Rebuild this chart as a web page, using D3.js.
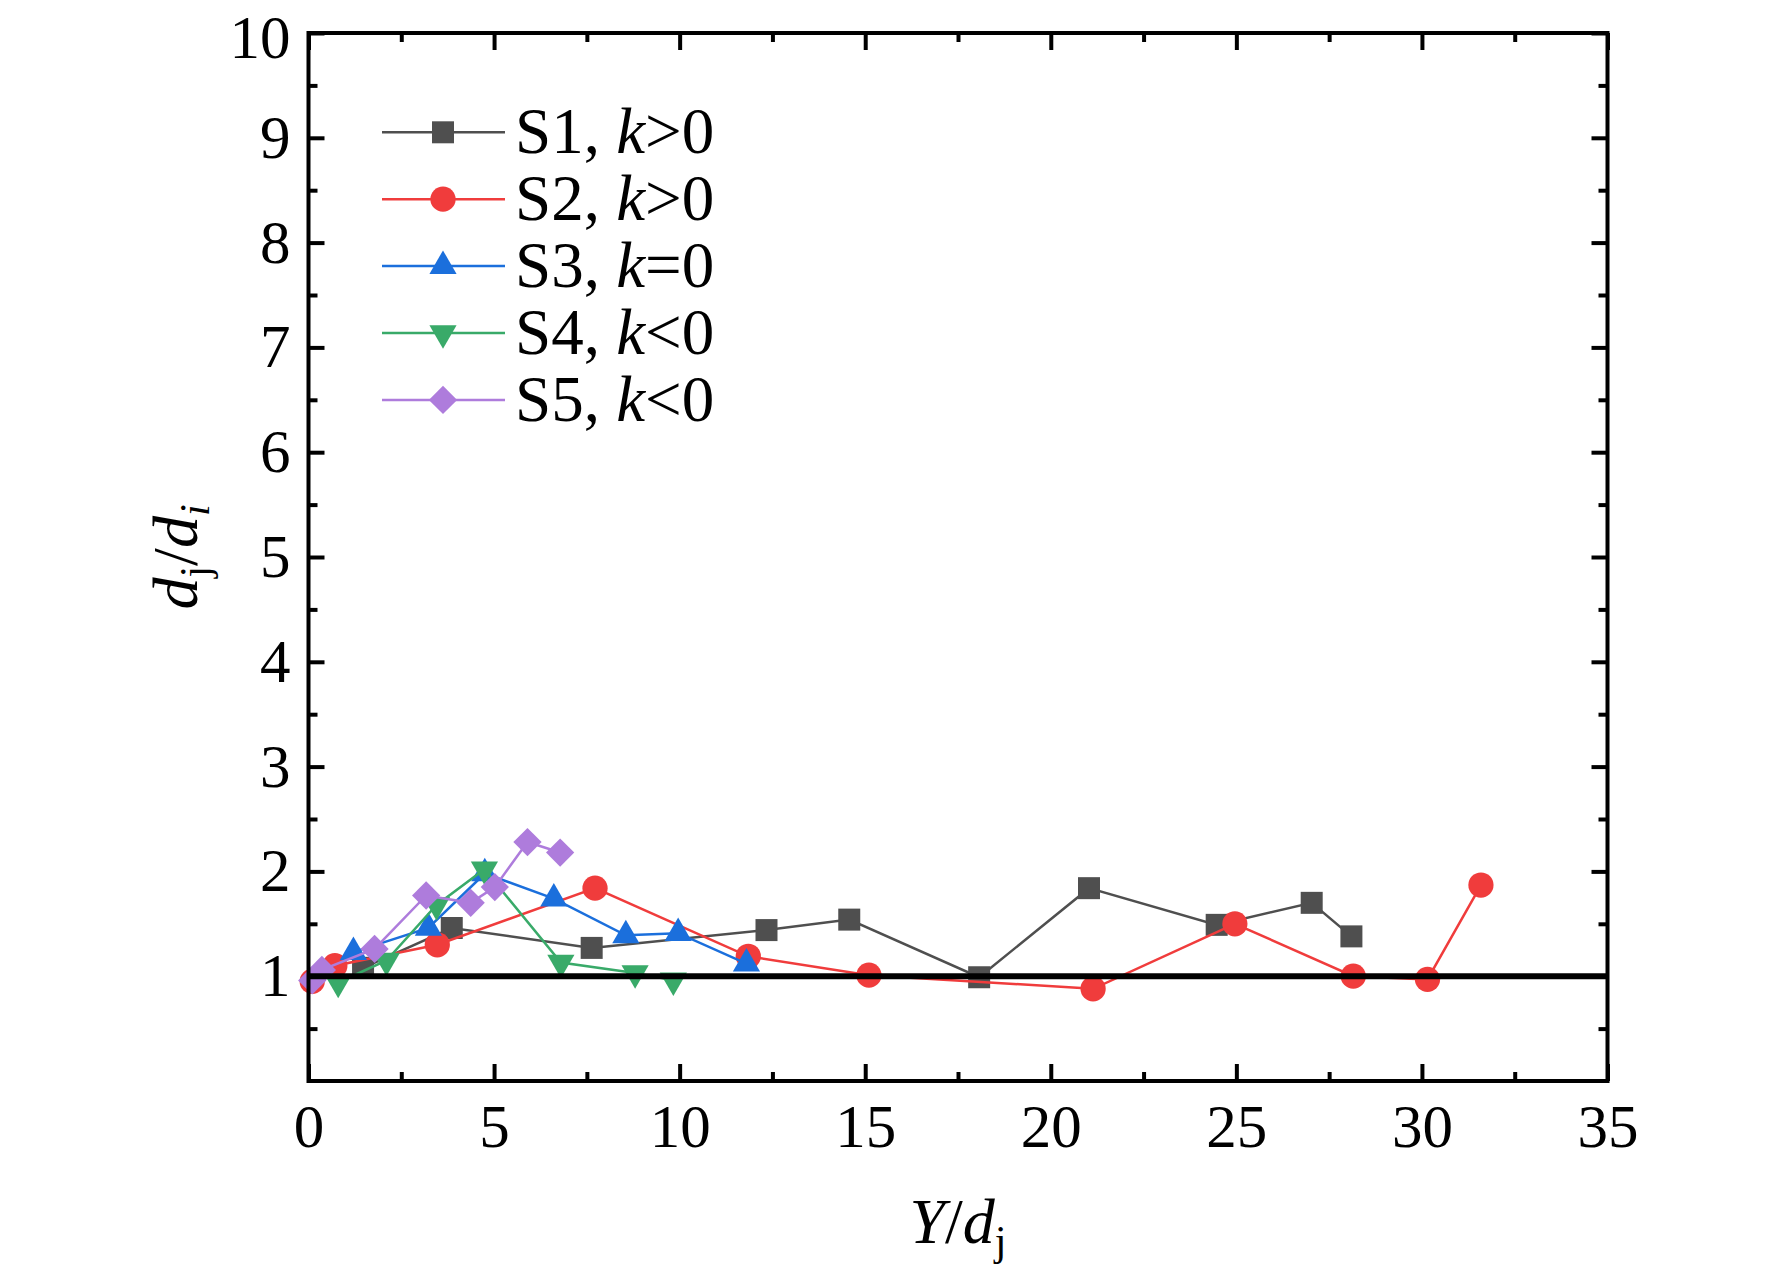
<!DOCTYPE html>
<html><head><meta charset="utf-8">
<script src="https://cdn.jsdelivr.net/npm/d3@7"></script>
<style>body{margin:0;background:#fff}svg{display:block}svg text{font-family:"Liberation Serif",serif}</style>
</head><body>
<svg id="c" width="1772" height="1278"></svg>
<script>
// ---- data ----
const xTickValues = [0, 5, 10, 15, 20, 25, 30, 35];
const yTickValues = [1, 2, 3, 4, 5, 6, 7, 8, 9, 10];
const seriesNames = ["S1", "S2", "S3", "S4", "S5"];
const seriesRel = [">0", ">0", "=0", "<0", "<0"];
const s1X = [1.47, 3.86, 7.63, 12.34, 14.57, 18.07, 21.03, 24.47, 27.03, 28.1];
const s1Y = [1.08, 1.46, 1.27, 1.44, 1.54, 0.99, 1.84, 1.49, 1.70, 1.38];
const s2X = [0.1, 0.71, 3.47, 7.72, 11.85, 15.1, 21.14, 24.96, 28.15, 30.15, 31.59];
const s2Y = [0.95, 1.10, 1.30, 1.84, 1.19, 1.01, 0.88, 1.50, 1.00, 0.97, 1.87];
const s3X = [1.21, 3.23, 4.75, 6.61, 8.55, 9.96, 11.8];
const s3Y = [1.23, 1.46, 1.98, 1.74, 1.39, 1.41, 1.12];
const s4X = [0.80, 2.10, 3.45, 4.74, 6.80, 8.80, 9.83];
const s4Y = [0.94, 1.15, 1.68, 2.02, 1.13, 1.03, 0.96];
const s5X = [0.1, 0.36, 1.78, 3.17, 4.37, 5.02, 5.90, 6.78];
const s5Y = [0.96, 1.06, 1.26, 1.77, 1.70, 1.85, 2.28, 2.18];
const refY = 1;

// ---- styles ----
const colors = ["#4f4f4f", "#f03c3c", "#1b6fdc", "#39aa69", "#ae7cdc"];
const L = 308.5, R = 1607.5, T = 33, B = 1081;
const FONT = "Liberation Serif";

const svg = d3.select("#c");
const x = d3.scaleLinear().domain([0, 35]).range([L, R]);
const y = d3.scaleLinear().domain([0, 10]).range([B, T]);

const seriesX = [s1X, s2X, s3X, s4X, s5X];
const seriesY = [s1Y, s2Y, s3Y, s4Y, s5Y];

function symbolPath(i, g) {
  if (i === 0) return g.append("path").attr("d", d3.symbol(d3.symbolSquare, 484)());
  if (i === 1) return g.append("path").attr("d", d3.symbol(d3.symbolCircle, 500)());
  if (i === 2) return g.append("path").attr("d", d3.symbol(d3.symbolTriangle, 320)());
  if (i === 3) return g.append("path").attr("d", d3.symbol(d3.symbolTriangle, 320)()).attr("transform", "rotate(180)");
  return g.append("path").attr("d", d3.symbol(d3.symbolSquare, 400)()).attr("transform", "rotate(45)");
}

// ---- series ----
const line = d3.line().x(d => x(d[0])).y(d => y(d[1]));
seriesX.forEach((xs, i) => {
  const pts = xs.map((v, k) => [v, seriesY[i][k]]);
  const g = svg.append("g");
  g.append("path").datum(pts).attr("d", line)
    .attr("fill", "none").attr("stroke", colors[i]).attr("stroke-width", 2.5);
  pts.forEach(p => {
    const m = g.append("g").attr("transform", `translate(${x(p[0])},${y(p[1])})`);
    symbolPath(i, m).attr("fill", colors[i]);
  });
});

// ---- reference line ----
svg.append("line").attr("x1", x(0)).attr("x2", x(35)).attr("y1", y(refY)).attr("y2", y(refY))
  .attr("stroke", "#000").attr("stroke-width", 6);

// ---- axes ----
const xMinor = d3.range(2.5, 35, 5);
const yMinor = d3.range(0.5, 10, 1);
function styleAxis(g) {
  g.select(".domain").remove();
  g.attr("font-family", FONT);
  g.selectAll(".tick line").attr("stroke", "#000").attr("stroke-width", 4);
  g.selectAll(".tick text").style("font-family", FONT).attr("font-size", 61).attr("fill", "#000");
}
svg.append("g").attr("transform", `translate(0,${B})`)
  .call(d3.axisBottom(x).tickValues(xTickValues).tickSize(-17).tickPadding(23).tickFormat(d3.format("d")))
  .call(styleAxis);
svg.append("g").attr("transform", `translate(0,${B})`)
  .call(d3.axisBottom(x).tickValues(xMinor).tickSize(-9).tickFormat(""))
  .call(styleAxis);
svg.append("g").attr("transform", `translate(0,${T})`)
  .call(d3.axisTop(x).tickValues(xTickValues).tickSize(-17).tickFormat(""))
  .call(styleAxis);
svg.append("g").attr("transform", `translate(0,${T})`)
  .call(d3.axisTop(x).tickValues(xMinor).tickSize(-9).tickFormat(""))
  .call(styleAxis);
const yAx = svg.append("g").attr("transform", `translate(${L},0)`)
  .call(d3.axisLeft(y).tickValues(yTickValues).tickSize(-16).tickPadding(18).tickFormat(d3.format("d")))
  .call(styleAxis);
// keep the top label fully inside the canvas
yAx.selectAll(".tick text").filter(d => d === 10).attr("dy", "0.40em");
svg.append("g").attr("transform", `translate(${L},0)`)
  .call(d3.axisLeft(y).tickValues(yMinor).tickSize(-9).tickFormat(""))
  .call(styleAxis);
svg.append("g").attr("transform", `translate(${R},0)`)
  .call(d3.axisRight(y).tickValues(yTickValues).tickSize(-16).tickFormat(""))
  .call(styleAxis);
svg.append("g").attr("transform", `translate(${R},0)`)
  .call(d3.axisRight(y).tickValues(yMinor).tickSize(-9).tickFormat(""))
  .call(styleAxis);
svg.append("rect").attr("x", L).attr("y", T).attr("width", R - L).attr("height", B - T)
  .attr("fill", "none").attr("stroke", "#000").attr("stroke-width", 4);

// ---- axis titles ----
const xt = svg.append("text").attr("x", (L + R) / 2).attr("y", 1243)
  .attr("text-anchor", "middle").style("font-family", FONT).attr("font-size", 64);
xt.append("tspan").attr("font-style", "italic").text("Y");
xt.append("tspan").text("/");
xt.append("tspan").attr("font-style", "italic").text("d");
xt.append("tspan").attr("font-size", 42).attr("dy", 12).text("j");

const yt = svg.append("text").attr("transform", `translate(197,${(T + B) / 2}) rotate(-90)`)
  .attr("text-anchor", "middle").style("font-family", FONT).attr("font-size", 64);
yt.append("tspan").attr("font-style", "italic").text("d");
yt.append("tspan").attr("font-size", 42).attr("dy", 12).text("j");
yt.append("tspan").attr("dy", -12).text("/");
yt.append("tspan").attr("font-style", "italic").text("d");
yt.append("tspan").attr("font-size", 42).attr("font-style", "italic").attr("dy", 12).text("i");

// ---- legend ----
const legY0 = 132.3, legDy = 66.9;
seriesNames.forEach((n, i) => {
  const cy = legY0 + i * legDy;
  const g = svg.append("g");
  g.append("line").attr("x1", 382).attr("x2", 505).attr("y1", cy).attr("y2", cy)
    .attr("stroke", colors[i]).attr("stroke-width", 2.5);
  const m = g.append("g").attr("transform", `translate(443,${cy})`);
  symbolPath(i, m).attr("fill", colors[i]);
  const t = g.append("text").attr("x", 515).attr("y", cy + 21)
    .style("font-family", FONT).attr("font-size", 65);
  t.append("tspan").text(n + ", ");
  t.append("tspan").attr("font-style", "italic").text("k");
  t.append("tspan").text(seriesRel[i]);
});
</script>
</body></html>
